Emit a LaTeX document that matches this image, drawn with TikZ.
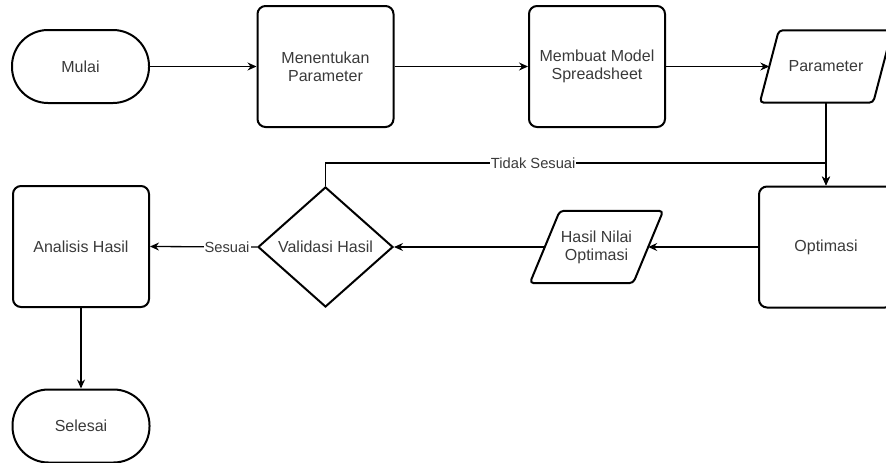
\documentclass[tikz,border=0pt]{standalone}
\usepackage{fontspec}
\setmainfont{Liberation Sans}
\usetikzlibrary{shapes.geometric,arrows.meta,calc}
\definecolor{txt}{HTML}{3A3A3A}
\begin{document}
\begin{tikzpicture}[x=1pt,y=-1pt,
  every node/.style={font=\fontsize{16}{18}\selectfont, text=txt},
  box/.style={draw=black, line width=2pt, rounded corners=8pt, minimum width=136pt, minimum height=121pt, align=center, inner sep=0pt},
  term/.style={draw=black, line width=2pt, rounded corners=36pt, minimum width=137pt, minimum height=73pt, inner sep=0pt},
  io/.style={rectangle, align=center, inner sep=0pt, minimum height=72pt},
  ioline/.style={draw=black, line width=2pt, rounded corners=4pt, line join=round},
  dec/.style={draw=black, line width=2pt, diamond, minimum width=135pt, minimum height=120pt, inner sep=0pt, align=center},
  conn/.style={draw=black, line width=1.3pt, -{Stealth[length=9pt,width=8pt,inset=3pt]}},
  lbl/.style={fill=white, inner sep=1pt, text=txt, font=\fontsize{14.7}{16}\selectfont}
]
\useasboundingbox (0,0) rectangle (886,463);

\node[term] (mulai) at (80.5,66.5) {Mulai};
\node[box] (tentukan) at (325.5,66.5) {Menentukan\\Parameter};
\node[box] (model) at (597,66.5) {Membuat Model\\Spreadsheet};
\node[io, minimum width=132pt] (param) at (826,66.5) {Parameter};
\node[box, minimum width=134pt] (opt) at (826,247) {Optimasi};
\node[io, minimum width=133pt] (hasil) at (596.5,247) {Hasil Nilai\\Optimasi};
\node[dec] (valid) at (325.5,247) {Validasi Hasil};
\node[box] (analisis) at (81,246.5) {Analisis Hasil};
\node[term] (selesai) at (81,426) {Selesai};

% parallelogram outlines
\draw[ioline] (param.south west) -- ($(param.north west)+(19,0)$) -- (param.north east) -- ($(param.south east)+(-19,0)$) -- cycle;
\draw[ioline] (hasil.south west) -- ($(hasil.north west)+(30,0)$) -- (hasil.north east) -- ($(hasil.south east)+(-30,0)$) -- cycle;

\coordinate (paramIn) at ($(param.west)+(9.5,0)$);
\coordinate (hasilIn) at ($(hasil.east)+(-15,0)$);
\coordinate (hasilOut) at ($(hasil.west)+(15,0)$);
\coordinate (tA) at (valid.north |- 0,163);
\coordinate (tB) at (opt.north |- 0,163);

\draw[conn] (mulai) -- (tentukan);
\draw[conn] (tentukan) -- (model);
\draw[conn] (model.east) -- (paramIn);
\draw[conn] (param.south) -- (opt.north);
\draw[conn] (opt.west) -- (hasilIn);
\draw[conn] (hasilOut) -- (valid.east);
\draw[conn] (valid.west) -- node[lbl, pos=0.28]{Sesuai} (analisis.east);
\draw[conn] (valid.north) -- (tA) -- node[lbl, pos=0.415]{Tidak Sesuai} (tB) -- (opt.north);
\draw[conn] (analisis) -- (selesai);
\end{tikzpicture}
\end{document}
